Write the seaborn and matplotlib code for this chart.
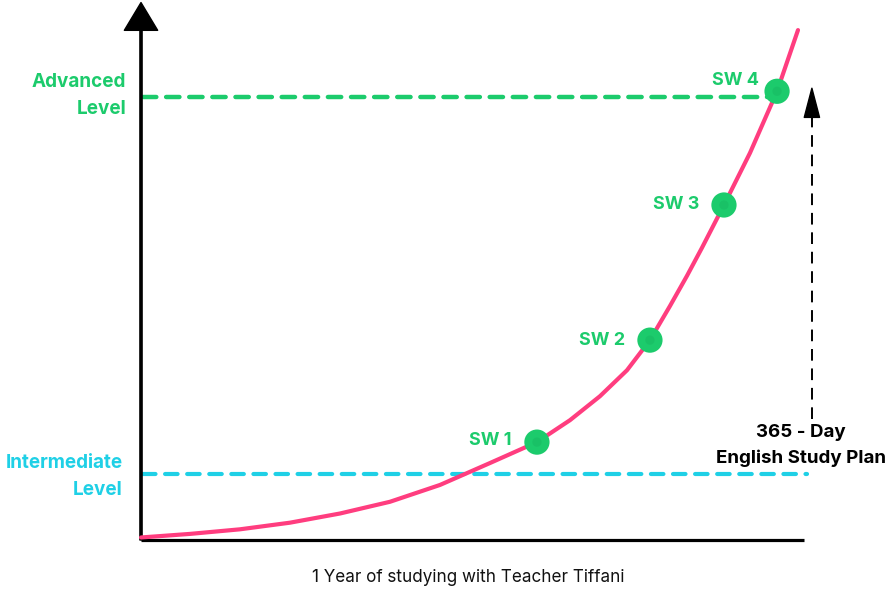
import numpy as np
import pandas as pd
import matplotlib.pyplot as plt
import seaborn as sns

# ---------- Data (x = day of the year, y = level score) ----------
curve_days = [0, 27.1, 54.8, 82.5, 110.2, 137.9, 165.6, 193.3, 219.3, 237.6, 254.2,
              269.2, 281.9, 293.0, 302.4, 310.7, 322.9, 337.3, 352.3, 363.9]
curve_level = [0.5, 1.2, 2.1, 3.4, 5.2, 7.5, 10.8, 15.1, 19.2, 23.5, 28.2,
               33.3, 39.2, 45.9, 51.8, 57.3, 65.7, 75.9, 88.0, 100.0]

sw_labels = ["SW 1", "SW 2", "SW 3", "SW 4"]
sw_days = [219.3, 281.9, 322.9, 352.3]
sw_level = [19.2, 39.2, 65.7, 88.0]

advanced_level = 86.9
intermediate_level = 12.9

PINK = "#FF3D7F"
GREEN = "#1CCB6C"
CYAN = "#1FD0E6"

curve_df = pd.DataFrame({"day": curve_days, "level": curve_level})
sw_df = pd.DataFrame({"day": sw_days, "level": sw_level, "label": sw_labels})

sns.set_style("white")
plt.rcParams["font.family"] = ["Inter", "DejaVu Sans"]

fig = plt.figure(figsize=(8.87, 5.90), dpi=100)
ax = fig.add_axes([0, 0, 1, 1])
ax.set_xlim(-78.1, 413.2)
ax.set_ylim(-9.8, 105.9)

# axes lines
ax.plot([0, 367], [0, 0], color="black", lw=2.3, solid_capstyle="butt", zorder=2)
ax.annotate("", xy=(0, 105.4), xytext=(0, 0),
            arrowprops=dict(facecolor="black", edgecolor="black", width=1.6,
                            headwidth=24, headlength=20, shrink=0), zorder=2)

# level lines
ax.plot([1, sw_days[3]], [advanced_level, advanced_level], color=GREEN, lw=3.2,
        ls=(0, (3.0, 2.2)), dash_capstyle="round", zorder=1)
ax.plot([1, 369], [intermediate_level, intermediate_level], color=CYAN, lw=3,
        ls=(0, (3.0, 2.3)), dash_capstyle="round", zorder=1)

# growth curve and checkpoints
sns.lineplot(data=curve_df, x="day", y="level", color=PINK, lw=3, ax=ax, zorder=3,
             estimator=None, sort=True)
sns.scatterplot(data=sw_df, x="day", y="level", color=GREEN, s=330, edgecolor="none",
                ax=ax, zorder=4, legend=False)
ax.scatter(sw_days, sw_level, s=45, color="#17B862", edgecolor="none", zorder=5, alpha=0.5)
ax.axis("off")

offsets = [(-18, 1), (-18, 0), (-18, 0), (-13, 8)]
for lab, d, lv, off in zip(sw_labels, sw_days, sw_level, offsets):
    ax.annotate(lab, xy=(d, lv), xytext=off, textcoords="offset points",
                ha="right", va="center", color=GREEN, fontsize=13, fontweight="bold")

# level labels
ax.text(-8.3, 87.1, "Advanced\nLevel", ha="right", va="center", color=GREEN,
        fontsize=13.6, fontweight="bold", linespacing=1.65, multialignment="right")
ax.text(-10, 12.5, "Intermediate\nLevel", ha="right", va="center", color=CYAN,
        fontsize=13.6, fontweight="bold", linespacing=1.65, multialignment="right")

# study plan arrow
ax.plot([371.6, 371.6], [23.8, 83], color="black", lw=1.4, ls=(0, (6, 4)), zorder=2)
ax.annotate("", xy=(371.6, 88.6), xytext=(371.6, 82.8),
            arrowprops=dict(facecolor="black", edgecolor="black", width=0.5,
                            headwidth=11, headlength=21, shrink=0), zorder=2)
ax.text(365.5, 18.6, "365 - Day\nEnglish Study Plan", ha="center", va="center",
        color="black", fontsize=13.5, fontweight="bold", linespacing=1.65)

# x label
ax.text(181, -7.3, "1 Year of studying with Teacher Tiffani", ha="center", va="center",
        color="#111111", fontsize=12.3)

fig.savefig("out.png", dpi=100)
